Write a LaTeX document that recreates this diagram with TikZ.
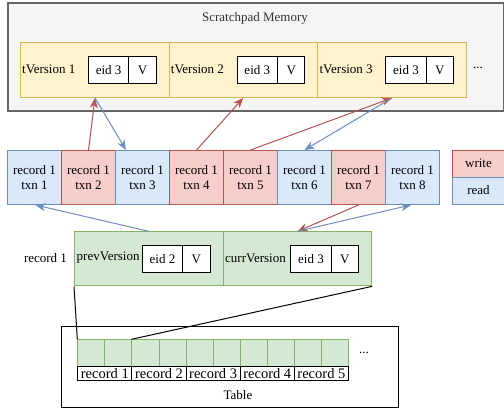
\documentclass[tikz,border=0pt]{standalone}
\usepackage{fontspec}
\setmainfont{Liberation Serif}
\usetikzlibrary{arrows.meta,calc}
\definecolor{spfill}{HTML}{F5F5F5}
\definecolor{spdraw}{HTML}{666666}
\definecolor{yfill}{HTML}{FFF2CC}
\definecolor{ydraw}{HTML}{D6B656}
\definecolor{rfill}{HTML}{F8CECC}
\definecolor{rdraw}{HTML}{B85450}
\definecolor{bfill}{HTML}{DAE8FC}
\definecolor{bdraw}{HTML}{6C8EBF}
\definecolor{gfill}{HTML}{D5E8D4}
\definecolor{gdraw}{HTML}{82B366}
\definecolor{txtgray}{HTML}{333333}
\begin{document}
\begin{tikzpicture}[x=1pt,y=-1pt,
  font=\fontsize{13}{15}\selectfont,
  bx/.style={draw, line width=1pt, inner sep=0pt, anchor=north west, align=center},
  recb/.style={fill=bfill, draw=bdraw},
  recr/.style={fill=rfill, draw=rdraw},
  tver/.style={bx, fill=yfill, draw=ydraw, minimum width=148.7pt, minimum height=55pt},
  gver/.style={bx, fill=gfill, draw=gdraw, minimum width=148.65pt, minimum height=54pt},
  eidbox/.style={bx, draw=black, fill=white, minimum width=40.6pt, minimum height=27.3pt},
  vbox/.style={bx, draw=black, fill=white, minimum width=27.2pt, minimum height=27.3pt},
  lbl/.style={inner sep=0pt, anchor=west},
  wr/.style={draw=rdraw, line width=1pt, -{Stealth[length=10pt,width=8pt,inset=3pt]}},
  rd/.style={draw=bdraw, line width=1pt, -{Stealth[length=10pt,width=8pt,inset=3pt]}},
]
\useasboundingbox (0,0) rectangle (504,408);

% Scratchpad memory
\node[bx, fill=spfill, draw=spdraw, line width=1.5pt, minimum width=496pt, minimum height=108pt] (sp) at (7,2) {};
\node[text=txtgray] (sptitle) at (255,18) {Scratchpad Memory};

\foreach \i/\L in {1/20, 2/168.7, 3/317.4} {
  \node[tver] (t\i) at (\L,42) {};
  \node[lbl] (tl\i) at (\L+2,69.5) {tVersion \i};
  \node[eidbox] (te\i) at (\L+67.8,56) {eid 3};
  \node[vbox] (tv\i) at (\L+108.4,56) {V};
}
\node (tdots) at (478,68) {...};

% transactions
\foreach \i/\c in {1/b,2/r,3/b,4/r,5/r,6/b,7/r,8/b} {
  \node[bx, rec\c, minimum width=54pt, minimum height=54pt] (r\i) at ({7+54*(\i-1)},150) {record 1\\txn \i};
}

% legend
\node[bx, recr, minimum width=54pt, minimum height=27pt] (lw) at (452,150) {};
\node (lwt) at (478.5,163) {write};
\node[bx, recb, minimum width=54pt, minimum height=27pt] (lr) at (452,177) {};
\node (lrt) at (478.5,190.5) {read};

% record 1
\node (reclbl) at (45.5,258.5) {record 1};
\node[gver] (prev) at (74,231.3) {};
\node[gver] (curr) at (222.65,231.3) {};
\node[lbl] (prevl) at (76.5,258) {prevVersion};
\node[lbl] (currl) at (225,258) {currVersion};
\node[eidbox] (pe) at (141.7,244.7) {eid 2};
\node[vbox] (pv) at (182.3,244.7) {V};
\node[eidbox] (ce) at (290.2,244.7) {eid 3};
\node[vbox] (cv) at (330.8,244.7) {V};

% table
\node[bx, draw=black, minimum width=337pt, minimum height=80.7pt] (tab) at (61,326) {};
\foreach \k in {1,...,10} {
  \node[bx, fill=gfill, draw=gdraw, minimum width=27.07pt, minimum height=26.4pt] (c\k) at ({77.3+27.07*(\k-1)},339.3) {};
}
\foreach \k in {1,...,5} {
  \node[bx, draw=black, fill=white, minimum width=54.14pt, minimum height=14.4pt, font=\fontsize{14.5}{15}\selectfont] (n\k) at ({77.3+54.14*(\k-1)},365.7) {record \k};
}
\node (tabdots) at (364,353) {...};
\node (tabl) at (238,395) {Table};

\draw[black, line width=1pt] (prev.south west) -- (c1.north west);
\draw[black, line width=1pt] (curr.south east) -- (c3.north west);

% connectors
\coordinate (a1) at ($(t1.south west)+(75,0)$);
\coordinate (a2) at ($(t2.south west)+(74.5,0)$);
\coordinate (a3) at ($(t3.south west)+(74.5,0)$);
\coordinate (b3) at ($(r3.north west)+(11,0)$);
\draw[wr] (r2.north) -- (a1);
\draw[rd] (a1) -- (b3);
\draw[wr] (r4.north) -- (a2);
\draw[wr] (r5.north) -- (a3);
\draw[rd] (a3) -- (r6.north);
\draw[rd] (prev.north) -- ($(r1.south)+(1,0)$);
\draw[wr] (r7.south) -- (curr.north);
\draw[rd] (curr.north) -- ($(r8.south)+(-1.5,0)$);
\end{tikzpicture}
\end{document}
